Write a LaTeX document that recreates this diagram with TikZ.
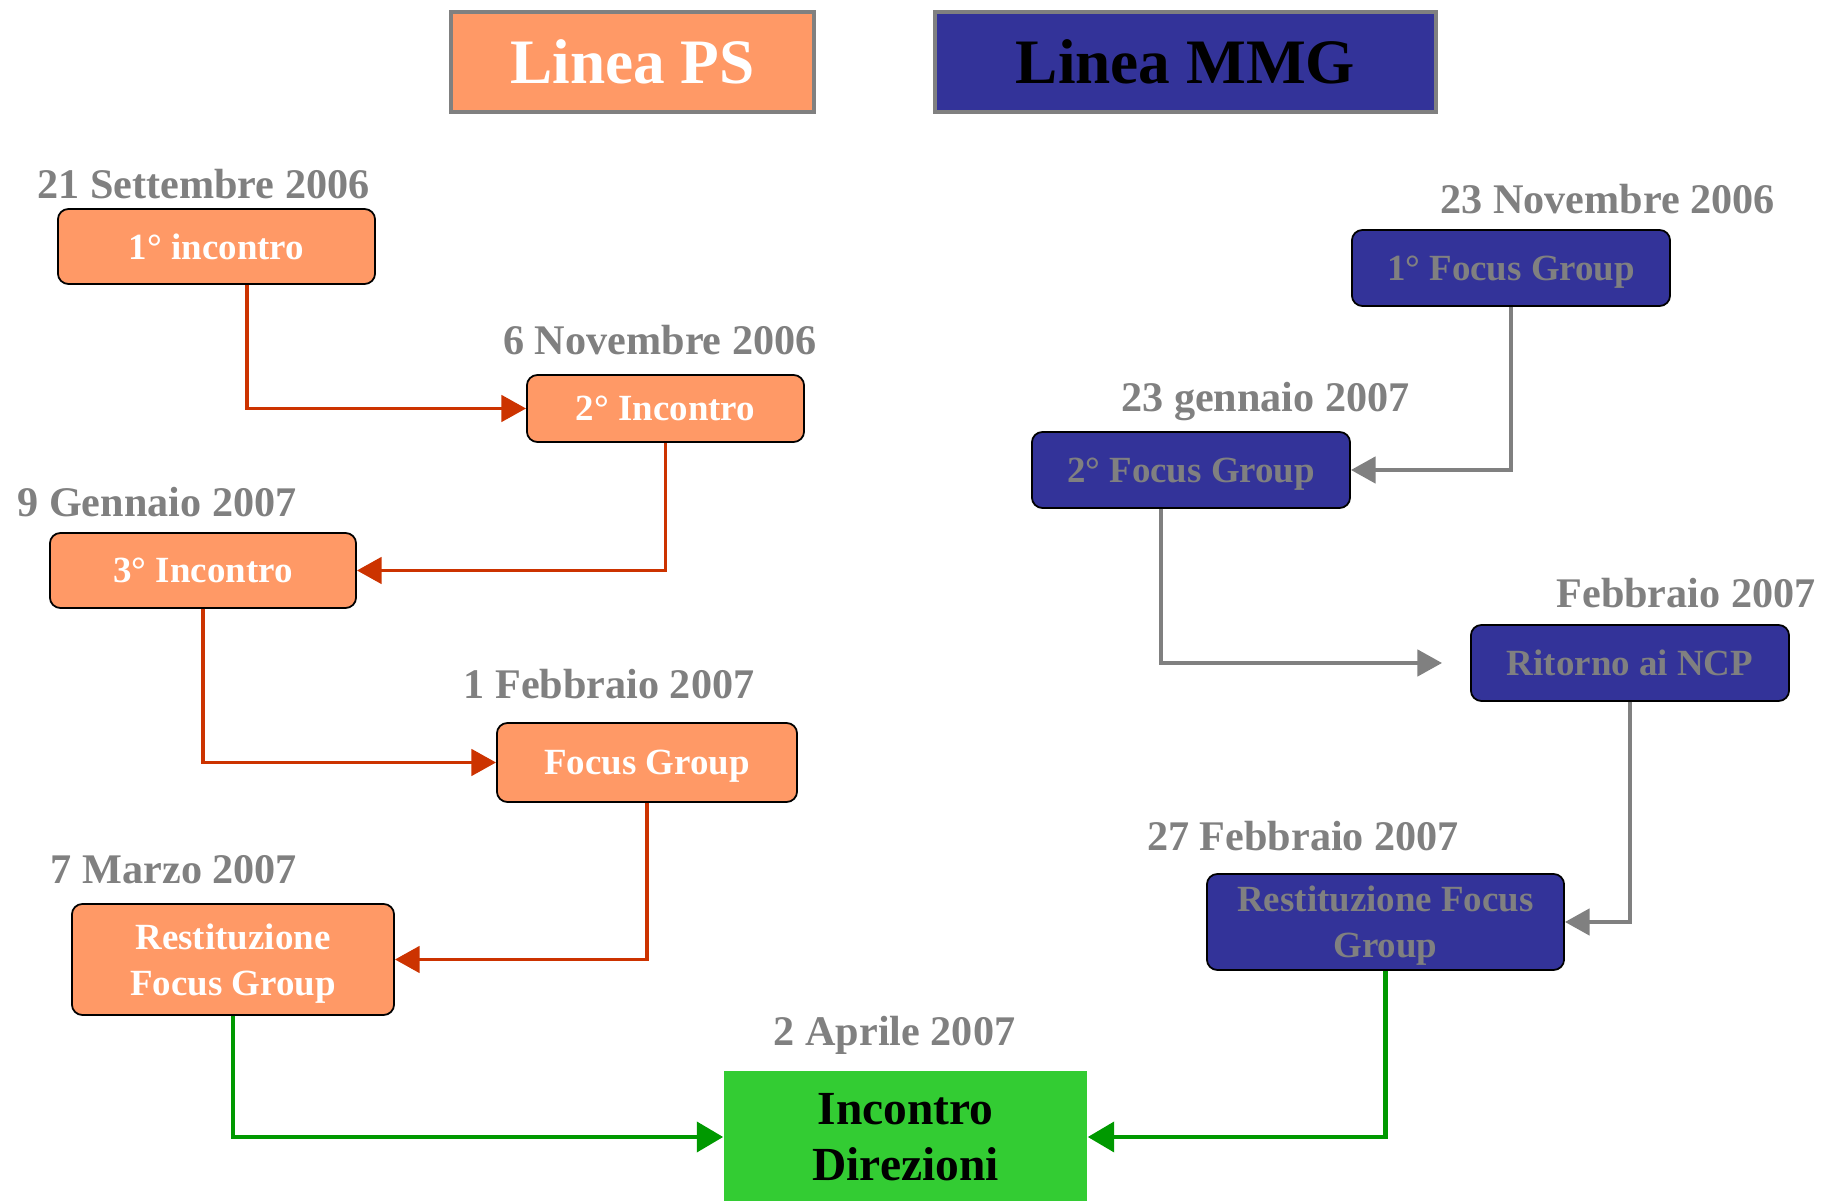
\documentclass[tikz,border=0pt]{standalone}
\usepackage{fontspec}
\setmainfont{Liberation Serif}
\usepackage{tikz}
\usetikzlibrary{arrows.meta, positioning}
\definecolor{psorange}{RGB}{255,153,102}
\definecolor{mmgblue}{RGB}{51,51,153}
\definecolor{dirgreen}{RGB}{51,204,51}
\definecolor{arrgreen}{RGB}{0,153,0}
\definecolor{arrred}{RGB}{204,51,0}
\definecolor{mygray}{RGB}{128,128,128}
\tikzset{
  header/.style={rectangle, draw=mygray, line width=1pt, inner sep=0pt,
    minimum height=1cm, font=\bfseries\fontsize{18}{21}\selectfont},
  psbox/.style={rectangle, draw=black, fill=psorange, text=white,
    rounded corners=3pt, line width=0.5pt, inner sep=0pt, align=center,
    text depth=0pt, font=\bfseries\fontsize{10.5}{13}\selectfont},
  mmgbox/.style={rectangle, draw=black, fill=mmgblue, text=mygray,
    rounded corners=3pt, line width=0.5pt, inner sep=0pt, align=center,
    text depth=0pt, font=\bfseries\fontsize{10.5}{13}\selectfont},
  dirbox/.style={rectangle, fill=dirgreen, inner sep=0pt, align=center,
    text depth=0pt, font=\bfseries\fontsize{13.5}{16}\selectfont},
  datelbl/.style={anchor=base, inner sep=0pt, text=mygray,
    font=\bfseries\fontsize{12}{14}\selectfont},
  redarrow/.style={-{Triangle[length=7pt, width=7.5pt]}, line width=1pt, color=arrred},
  grayarrow/.style={-{Triangle[length=7pt, width=7.5pt]}, line width=1pt, color=mygray},
  greenarrow/.style={-{Triangle[length=7.5pt, width=8.5pt]}, line width=1.2pt, color=arrgreen}
}

\begin{document}
\begin{tikzpicture}[x=0.01cm, y=-0.01cm]
  \useasboundingbox (0,0) rectangle (1832,1201);

  % Headers
  \node[header, fill=psorange, text=white, minimum width=3.63cm] (hps) at (632.5,62) {Linea PS};
  \node[header, fill=mmgblue, text=black, minimum width=5.01cm] (hmmg) at (1185.5,62) {Linea MMG};

  % Linea PS
  \node[psbox, minimum width=3.17cm, minimum height=0.75cm] (inc1) at (216.5,246.5) {1° incontro};
  \node[datelbl] (dinc1) at (203.5,199) {21 Settembre 2006};
  \node[psbox, minimum width=2.77cm, minimum height=0.67cm] (inc2) at (665.5,408.5) {2° Incontro};
  \node[datelbl] (dinc2) at (660,354.5) {6 Novembre 2006};
  \node[psbox, minimum width=3.06cm, minimum height=0.75cm] (inc3) at (203,570.5) {3° Incontro};
  \node[datelbl] (dinc3) at (157,517) {9 Gennaio 2007};
  \node[psbox, minimum width=3.00cm, minimum height=0.79cm] (psfg) at (647,762.5) {Focus Group};
  \node[datelbl] (dpsfg) at (609,699) {1 Febbraio 2007};
  \node[psbox, minimum width=3.22cm, minimum height=1.11cm] (psrest) at (233,959.5) {Restituzione\\Focus Group};
  \node[datelbl] (dpsrest) at (174,884) {7 Marzo 2007};

  \draw[redarrow] ([xshift=0.305cm]inc1.south) |- (inc2.west);
  \draw[redarrow] (inc2.south) |- (inc3.east);
  \draw[redarrow] (inc3.south) |- (psfg.west);
  \draw[redarrow] (psfg.south) |- (psrest.east);

  % Linea MMG
  \node[mmgbox, minimum width=3.18cm, minimum height=0.76cm] (fg1) at (1511,268) {1° Focus Group};
  \node[datelbl] (dfg1) at (1607.5,214) {23 Novembre 2006};
  \node[mmgbox, minimum width=3.18cm, minimum height=0.76cm] (fg2) at (1191,470) {2° Focus Group};
  \node[datelbl] (dfg2) at (1265.5,412) {23 gennaio 2007};
  \node[mmgbox, minimum width=3.18cm, minimum height=0.76cm] (ncp) at (1630,663) {Ritorno ai NCP};
  \node[datelbl] (dncp) at (1686,608) {Febbraio 2007};
  \node[mmgbox, minimum width=3.57cm, minimum height=0.96cm] (mmgrest) at (1385.5,922) {Restituzione Focus\\Group};
  \node[datelbl] (dmmgrest) at (1303,851) {27 Febbraio 2007};

  \draw[grayarrow] (fg1.south) |- (fg2.east);
  \draw[grayarrow] ([xshift=-0.30cm]fg2.south) |- ([xshift=-0.28cm]ncp.west);
  \draw[grayarrow] (ncp.south) |- (mmgrest.east);

  % Incontro Direzioni
  \node[dirbox, minimum width=3.63cm, minimum height=1.32cm] (dir) at (905.5,1137) {Incontro\\Direzioni};
  \node[datelbl] (ddir) at (894.5,1046) {2 Aprile 2007};

  \draw[greenarrow] (psrest.south) |- (dir.west);
  \draw[greenarrow] (mmgrest.south) |- (dir.east);
\end{tikzpicture}
\end{document}
